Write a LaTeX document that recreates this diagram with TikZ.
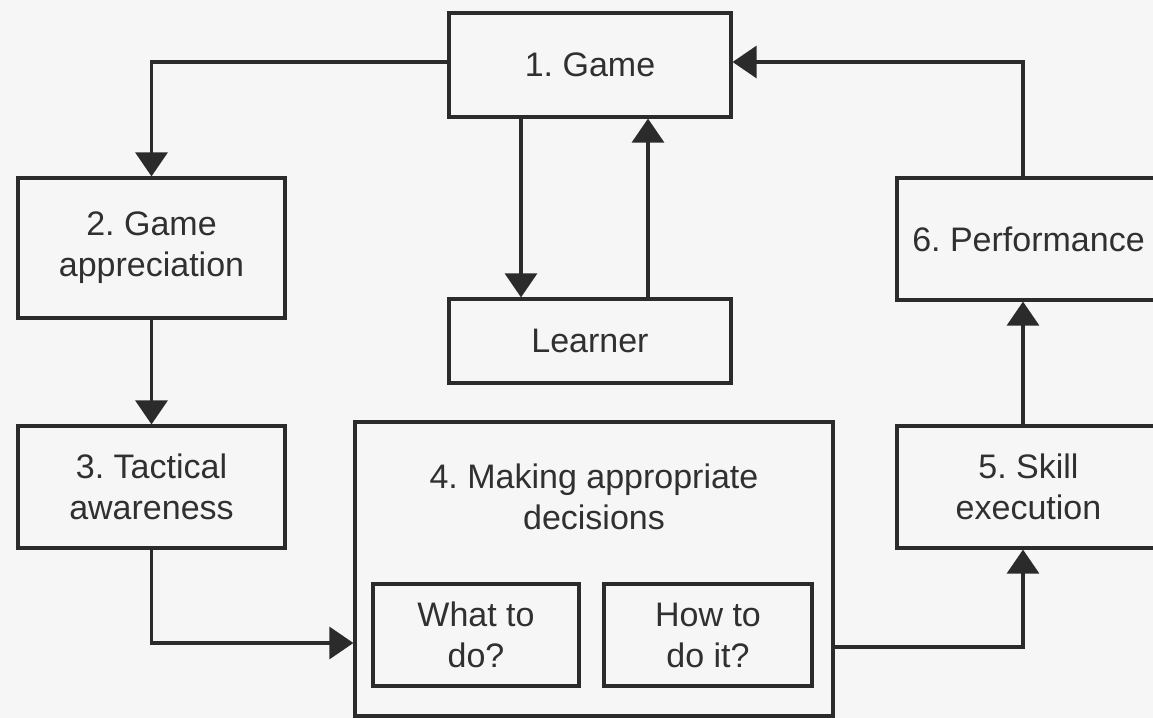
\documentclass[tikz,border=0pt]{standalone}
\usepackage{fontspec}
\setmainfont{Liberation Sans}
\frenchspacing
\usetikzlibrary{arrows.meta,calc}
\definecolor{ink}{HTML}{2B2B2B}
\definecolor{txt}{HTML}{303030}
\definecolor{paper}{HTML}{F6F6F6}
\tikzset{
  box/.style={draw=ink, line width=1.6pt, fill=paper, rectangle, inner sep=0pt,
    align=center, text=txt, font=\fontsize{17}{20.5}\selectfont},
  lbl/.style={inner sep=0pt, align=center, text=txt, font=\fontsize{17}{20.5}\selectfont},
  arr/.style={draw=ink, line width=1.6pt, -{Triangle[width=16pt,length=12pt]}},
  ln/.style={draw=ink, line width=1.6pt}
}
\begin{document}
\begin{tikzpicture}[x=0.5pt,y=-0.5pt]
\clip (0,0) rectangle (1153,718);
\fill[paper] (0,0) rectangle (1153,718);
% boxes
\node[box, minimum width=141pt, minimum height=52pt] (game) at (590,65) {1. Game};
\node[box, minimum width=141pt, minimum height=42pt] (learner) at (590,341) {Learner};
\node[box, minimum width=133.5pt, minimum height=70pt] (app) at (151.5,248) {2. Game\\appreciation};
\node[box, minimum width=133.5pt, minimum height=61pt] (tac) at (151.5,487) {3. Tactical\\awareness};
\node[box, minimum width=239pt, minimum height=147pt] (dec) at (594,569) {};
\node[lbl] (dectitle) at (594,497) {4. Making appropriate\\decisions};
\node[box, minimum width=103pt, minimum height=51pt] (what) at (476,635) {What to\\do?};
\node[box, minimum width=104pt, minimum height=51pt] (how) at (708,635) {How to\\do it?};
\node[box, minimum width=131.5pt, minimum height=61pt] (skill) at (1028.5,487) {5. Skill\\execution};
\node[box, minimum width=131.5pt, minimum height=61pt] (perf) at (1028.5,239) {6. Performance};
% connectors
\draw[arr] ([yshift=1.5pt]game.west) -| (app.north);
\draw[arr] ([xshift=-34.5pt]game.south) -- ([xshift=-34.5pt]learner.north);
\draw[arr] ([xshift=29pt]learner.north) -- ([xshift=29pt]game.south);
\draw[arr] (app.south) -- (tac.north);
\draw[arr] (tac.south) |- ([yshift=-37pt]dec.west);
\draw[arr] ([yshift=-39pt]dec.east) -| ([xshift=-2.75pt]skill.south);
\draw[arr] ([xshift=-2.75pt]skill.north) -- ([xshift=-2.75pt]perf.south);
\draw[arr] ([xshift=-2.75pt]perf.north) |- ([yshift=1.5pt]game.east);
\end{tikzpicture}
\end{document}
